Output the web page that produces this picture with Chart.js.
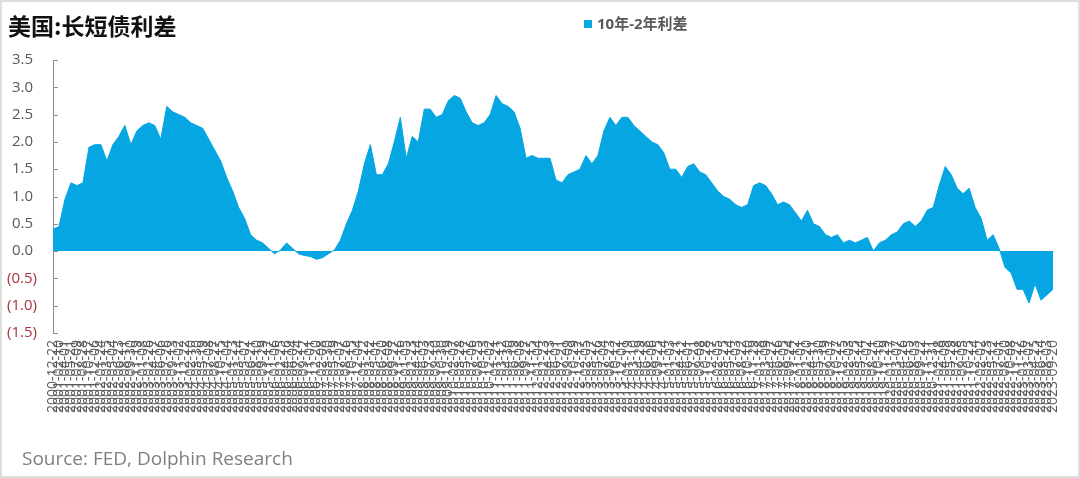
<!DOCTYPE html>
<html>
<head>
<meta charset="utf-8">
<script src="https://cdn.jsdelivr.net/npm/chart.js@4"></script>
<style>
  html, body { margin: 0; padding: 0; background: #fff; }
  #wrap { position: relative; width: 1080px; height: 478px; box-sizing: border-box; border: 2px solid #dedede; overflow: hidden; }
  #chart { position: absolute; left: -2px; top: -2px; }
  .title { position: absolute; left: 6px; top: 6px; font: bold 23px "Noto Sans CJK SC", sans-serif; color: #111; }
  .legend { position: absolute; left: 582px; top: 10px; font: bold 15px "Open Sans", "Noto Sans CJK SC", sans-serif; color: #595959; }
  .legend i { display: inline-block; width: 8px; height: 8px; background: #05a6e2; margin-right: 5px; vertical-align: 1px; }
  .source { position: absolute; left: 20px; top: 443px; font: 19px "Open Sans", sans-serif; color: #7f7f7f; }
</style>
</head>
<body>
<div id="wrap">
  <canvas id="chart" width="1080" height="478"></canvas>
  <div class="title">美国:长短债利差</div>
  <div class="legend"><i></i>10年-2年利差</div>
  <div class="source">Source: FED, Dolphin Research</div>
</div>
<script>
// observation dates (category axis)
const dates = [
  '2000-12-22',
  '2001-02-10', '2001-04-01', '2001-05-21', '2001-07-09', '2001-08-28', '2001-10-17', '2001-12-06',
  '2002-01-24', '2002-03-15', '2002-05-04', '2002-06-23', '2002-08-11', '2002-09-30', '2002-11-19',
  '2003-01-08', '2003-02-26', '2003-04-17', '2003-06-06', '2003-07-26', '2003-09-13', '2003-11-02', '2003-12-22',
  '2004-02-10', '2004-03-30', '2004-05-19', '2004-07-08', '2004-08-27', '2004-10-15', '2004-12-04',
  '2005-01-23', '2005-03-14', '2005-05-02', '2005-06-21', '2005-08-10', '2005-09-29', '2005-11-17',
  '2006-01-06', '2006-02-25', '2006-04-16', '2006-06-04', '2006-07-24', '2006-09-12', '2006-11-01', '2006-12-20',
  '2007-02-08', '2007-03-30', '2007-05-19', '2007-07-07', '2007-08-26', '2007-10-15', '2007-12-04',
  '2008-01-22', '2008-03-12', '2008-05-01', '2008-06-20', '2008-08-08', '2008-09-27', '2008-11-16',
  '2009-01-05', '2009-02-23', '2009-04-14', '2009-06-03', '2009-07-23', '2009-09-10', '2009-10-30', '2009-12-19',
  '2010-02-07', '2010-03-28', '2010-05-17', '2010-07-06', '2010-08-25', '2010-10-13', '2010-12-02',
  '2011-01-21', '2011-03-12', '2011-04-30', '2011-06-19', '2011-08-08', '2011-09-27', '2011-11-15',
  '2012-01-04', '2012-02-23', '2012-04-13', '2012-06-01', '2012-07-21', '2012-09-09', '2012-10-29', '2012-12-17',
  '2013-02-05', '2013-03-27', '2013-05-16', '2013-07-04', '2013-08-23', '2013-10-12', '2013-12-01',
  '2014-01-19', '2014-03-10', '2014-04-29', '2014-06-18', '2014-08-06', '2014-09-25', '2014-11-14',
  '2015-01-03', '2015-02-21', '2015-04-12', '2015-06-01', '2015-07-21', '2015-09-08', '2015-10-28', '2015-12-17',
  '2016-02-05', '2016-03-25', '2016-05-14', '2016-07-03', '2016-08-22', '2016-10-10', '2016-11-29',
  '2017-01-18', '2017-03-09', '2017-04-27', '2017-06-16', '2017-08-05', '2017-09-24', '2017-11-12',
  '2018-01-01', '2018-02-20', '2018-04-11', '2018-05-30', '2018-07-19', '2018-09-07', '2018-10-27', '2018-12-15',
  '2019-02-03', '2019-03-25', '2019-05-14', '2019-07-02', '2019-08-21', '2019-10-10', '2019-11-29',
  '2020-01-17', '2020-03-07', '2020-04-26', '2020-06-15', '2020-08-03', '2020-09-22', '2020-11-11', '2020-12-31',
  '2021-02-18', '2021-04-09', '2021-05-29', '2021-07-18', '2021-09-05', '2021-10-25', '2021-12-14',
  '2022-02-02', '2022-03-23', '2022-05-12', '2022-07-01', '2022-08-20', '2022-10-08', '2022-11-27',
  '2023-01-16', '2023-03-07', '2023-04-25', '2023-06-14', '2023-08-03', '2023-09-20'
];

// 10Y - 2Y spread, %
const spread = [
  0.40,
  0.45, 0.95, 1.25, 1.20, 1.25, 1.90, 1.95,
  1.95, 1.65, 1.95, 2.10, 2.30, 1.95, 2.20,
  2.30, 2.35, 2.30, 2.05, 2.65, 2.55, 2.50, 2.45,
  2.35, 2.30, 2.25, 2.05, 1.85, 1.65, 1.35,
  1.10, 0.80, 0.60, 0.30, 0.20, 0.15, 0.05,
  -0.05, 0.02, 0.15, 0.05, -0.05, -0.08, -0.10, -0.15,
  -0.12, -0.05, 0.02, 0.20, 0.50, 0.75, 1.10,
  1.60, 1.95, 1.40, 1.40, 1.60, 2.00, 2.45,
  1.70, 2.10, 2.00, 2.60, 2.60, 2.45, 2.50, 2.75,
  2.85, 2.80, 2.55, 2.35, 2.30, 2.35, 2.50,
  2.85, 2.70, 2.65, 2.55, 2.25, 1.70, 1.75,
  1.70, 1.70, 1.70, 1.30, 1.25, 1.40, 1.45, 1.50,
  1.75, 1.60, 1.75, 2.20, 2.45, 2.30, 2.45,
  2.45, 2.30, 2.20, 2.10, 2.00, 1.95, 1.80,
  1.50, 1.50, 1.35, 1.55, 1.60, 1.45, 1.40, 1.25,
  1.10, 1.00, 0.95, 0.85, 0.80, 0.85, 1.20,
  1.25, 1.20, 1.05, 0.85, 0.90, 0.85, 0.70,
  0.55, 0.75, 0.50, 0.45, 0.30, 0.25, 0.30, 0.15,
  0.20, 0.15, 0.20, 0.25, 0.00, 0.15, 0.20,
  0.30, 0.35, 0.50, 0.55, 0.45, 0.55, 0.75, 0.80,
  1.20, 1.55, 1.40, 1.15, 1.05, 1.15, 0.80,
  0.60, 0.20, 0.30, 0.05, -0.30, -0.40, -0.70,
  -0.70, -0.95, -0.60, -0.90, -0.80, -0.70
];

// y axis labels, bottom to top
const yTickLabels = ['(1.5)', '(1.0)', '(0.5)', '0.0 ', '0.5 ', '1.0 ', '1.5 ', '2.0 ', '2.5 ', '3.0 ', '3.5 '];

const innerTicks = {
  id: 'innerTicks',
  afterDraw(chart) {
    const y = chart.scales.y;
    const ctx = chart.ctx;
    ctx.save();
    ctx.strokeStyle = '#8c8c8c';
    ctx.lineWidth = 1;
    y.ticks.forEach(t => {
      const py = Math.round(y.getPixelForValue(t.value)) + 0.5;
      ctx.beginPath();
      ctx.moveTo(y.right, py);
      ctx.lineTo(y.right + 5, py);
      ctx.stroke();
    });
    ctx.restore();
  }
};

new Chart(document.getElementById('chart').getContext('2d'), {
  type: 'line',
  data: {
    labels: dates,
    datasets: [{
      label: '10年-2年利差',
      data: spread,
      borderColor: '#05a6e2',
      backgroundColor: '#05a6e2',
      borderWidth: 1,
      pointRadius: 0,
      tension: 0,
      fill: 'origin'
    }]
  },
  options: {
    responsive: false,
    animation: false,
    layout: { padding: { left: 0, top: 60, right: 27, bottom: 0 } },
    plugins: {
      legend: { display: false },
      title: { display: false },
      tooltip: { enabled: false }
    },
    scales: {
      x: {
        afterFit: s => { s.height = 145; },
        grid: { display: false, drawTicks: false },
        border: { display: false },
        ticks: {
          autoSkip: false,
          maxRotation: 90,
          minRotation: 90,
          padding: 7,
          color: '#595959',
          font: { family: 'Open Sans', size: 14 }
        }
      },
      y: {
        min: -1.5,
        max: 3.5,
        afterFit: s => { s.width = 53; },
        grid: { display: false, drawTicks: false },
        border: { display: true, color: '#8c8c8c' },
        ticks: {
          stepSize: 0.5,
          padding: 16,
          color: ctx => ctx.tick.value < 0 ? '#a8323a' : '#595959',
          font: { family: 'Open Sans', size: 15 },
          callback: (v, i) => yTickLabels[i]
        }
      }
    }
  },
  plugins: [innerTicks]
});
</script>
</body>
</html>
